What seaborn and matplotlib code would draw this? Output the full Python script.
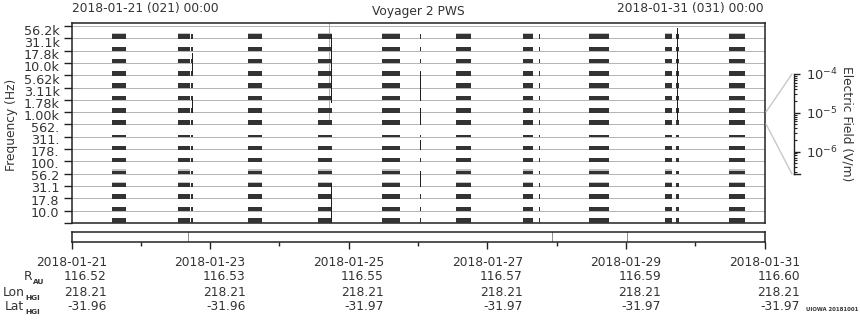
import numpy as np
import matplotlib
matplotlib.use("Agg")
import matplotlib.pyplot as plt
import matplotlib.transforms as mtransforms
from matplotlib.lines import Line2D
import seaborn as sns

# ---------------- data ----------------
freq_labels = ["10.0", "17.8", "31.1", "56.2", "100.", "178.", "311.", "562.",
               "1.00k", "1.78k", "3.11k", "5.62k", "10.0k", "17.8k", "31.1k", "56.2k"]
# fill height of each of the 16 channel rows (bottom to top), in row units
channel_fill = [0.42, 0.33, 0.33, 0.26, 0.26, 0.28, 0.26, 0.15,
                0.33, 0.31, 0.33, 0.33, 0.33, 0.33, 0.31, 0.33]
# rows that show a faint, weaker signal just above the strong one
faint_rows = [3, 4, 15]
# data blocks, days since 2018-01-21 00:00
block_start = [0.584, 1.537, 2.551, 3.557, 4.480, 5.548, 6.520, 7.472, 8.564, 9.488]
block_end   = [0.786, 1.710, 2.744, 3.759, 4.740, 5.760, 6.655, 7.752, 8.665, 9.719]
thin_start  = [1.724, 5.027, 6.745, 8.723]
thin_end    = [1.753, 5.041, 6.762, 8.766]
# vertical bursts: day, lower row, upper row
burst_day  = [1.743, 1.743, 3.748, 3.748, 5.034, 5.034, 5.034, 5.034, 8.733]
burst_low  = [12.2, 9.05, 9.8, 0.0, 10.0, 8.0, 6.0, 3.0, 8.4]
burst_high = [13.8, 10.1, 15.3, 3.24, 12.3, 9.3, 6.75, 4.2, 15.8]
faint_day, faint_low, faint_high = [3.72], [8.4], [16.22]
strip_marks = [1.68, 6.934, 8.02]

tick_days  = [0, 2, 4, 6, 8, 10]
tick_dates = ["2018-01-21", "2018-01-23", "2018-01-25", "2018-01-27", "2018-01-29", "2018-01-31"]
r_au    = ["116.52", "116.53", "116.55", "116.57", "116.59", "116.60"]
lon_hgi = ["218.21", "218.21", "218.21", "218.21", "218.21", "218.21"]
lat_hgi = ["-31.96", "-31.96", "-31.97", "-31.97", "-31.97", "-31.97"]

cbar_ticks = [1e-6, 1e-5, 1e-4]
cbar_range = [2.6e-7, 1e-4]

# ---------------- style ----------------
sns.set_theme(style="white")
plt.rcParams["font.family"] = ["DejaVu Sans"]
TXT = "#333333"
FS = 8.8
W, H = 860, 320
PX = 0.72  # one pixel in points

fig = plt.figure(figsize=(W / 100, H / 100), dpi=100)
fig.patch.set_facecolor("white")

def fx(px):
    return px / W

def fy(py):
    return 1 - py / H

# ---------------- main spectrogram axes ----------------
ax = fig.add_axes([fx(71.5), fy(223.3), fx(764.5 - 71.5), (223.3 - 23.3) / H])
ax.set_xlim(0, 10)
ax.set_ylim(-0.03, 16.22)
ax.set_facecolor("white")

# channel boundary lines
ax.hlines(np.arange(0, 17), 0, 10, color="#b5b5b5", lw=PX, zorder=1, antialiased=False)

bar_color = "#333333"
spans = [(s, e - s) for s, e in zip(block_start, block_end)]
tspans = [(s, e - s) for s, e in zip(thin_start, thin_end)]
for k, h in enumerate(channel_fill):
    ax.broken_barh(spans, (k - 0.04, h + 0.04), facecolors=bar_color, zorder=3,
                   antialiased=False, linewidth=0)
    ax.broken_barh(tspans, (k - 0.04, h + 0.04), facecolors=bar_color, zorder=3,
                   antialiased=False, linewidth=0)
    if k in faint_rows:
        ax.broken_barh(spans, (k + h, 0.1), facecolors="#c4c4c4", zorder=2,
                       antialiased=False, linewidth=0)

ax.vlines(faint_day, faint_low, faint_high, color="#b0b0b0", lw=PX, zorder=2, antialiased=False)
ax.vlines(burst_day, burst_low, burst_high, color="#202020", lw=PX, zorder=4, antialiased=False)

for s in ax.spines.values():
    s.set_color("#222222")
    s.set_linewidth(1.1)

ax.set_xticks([])
ax.set_yticks(np.arange(0, 17), minor=True)
ax.set_yticks(0.92 + np.arange(16) * 0.983)
ax.set_yticklabels(freq_labels)
ax.tick_params(axis="y", which="major", length=0, pad=8.6, labelsize=FS + 0.4, labelcolor=TXT)
ax.tick_params(axis="y", which="minor", length=6.0, width=1.0, color="#222222", left=True)
fig.text(fx(12), fy(125), "Frequency (Hz)", rotation=90, ha="center", va="center",
         fontsize=FS, color=TXT)

# ---------------- lower time strip ----------------
ax2 = fig.add_axes([fx(71.5), fy(242.3), fx(693), (242.3 - 231.7) / H])
ax2.set_xlim(0, 10)
ax2.set_ylim(0, 1)
ax2.vlines(strip_marks, 0, 1, color="#909090", lw=PX, antialiased=False)
for s in ax2.spines.values():
    s.set_color("#222222")
    s.set_linewidth(1.1)
ax2.set_yticks([])
ax2.set_xticks(tick_days)
ax2.set_xticks([1, 3, 5, 7, 9], minor=True)
ax2.tick_params(axis="x", which="major", length=5.2, width=1.0, color="#222222",
                bottom=True, labelbottom=False, direction="out")
ax2.tick_params(axis="x", which="minor", length=2.6, width=1.0, color="#222222",
                bottom=True, direction="out")

blend = mtransforms.blended_transform_factory(ax2.transData, fig.transFigure)
right_tr = mtransforms.offset_copy(blend, fig=fig, x=35.3, y=0, units="dots")
for d, lab, r, lo, la in zip(tick_days, tick_dates, r_au, lon_hgi, lat_hgi):
    fig.text(d, fy(262), lab, transform=blend, ha="center", va="center", fontsize=FS, color=TXT)
    fig.text(d, fy(277), r, transform=right_tr, ha="right", va="center", fontsize=FS, color=TXT)
    fig.text(d, fy(292), lo, transform=right_tr, ha="right", va="center", fontsize=FS, color=TXT)
    fig.text(d, fy(306.5), la, transform=right_tr, ha="right", va="center", fontsize=FS, color=TXT)

# row labels with subscripts
SUB = 5.3
fig.text(fx(32), fy(277), "R", ha="right", va="center", fontsize=FS, color=TXT)
fig.text(fx(32.5), fy(282.5), "AU", ha="left", va="center", fontsize=SUB, color=TXT, fontweight="bold")
fig.text(fx(24.5), fy(292), "Lon", ha="right", va="center", fontsize=FS, color=TXT)
fig.text(fx(25), fy(298), "HGI", ha="left", va="center", fontsize=SUB, color=TXT, fontweight="bold")
fig.text(fx(24.5), fy(306.5), "Lat", ha="right", va="center", fontsize=FS, color=TXT)
fig.text(fx(25), fy(312.5), "HGI", ha="left", va="center", fontsize=SUB, color=TXT, fontweight="bold")

# ---------------- titles ----------------
fig.text(fx(72.5), fy(8.5), "2018-01-21 (021) 00:00", ha="left", va="center", fontsize=FS, color=TXT)
fig.text(fx(418), fy(11.5), "Voyager 2 PWS", ha="center", va="center", fontsize=FS, color=TXT)
fig.text(fx(763.5), fy(8.5), "2018-01-31 (031) 00:00", ha="right", va="center", fontsize=FS, color=TXT)
fig.text(fx(805.5), fy(309.5), "UIOWA 20181001", ha="left", va="center", fontsize=3.9,
         color=TXT, fontweight="bold")

# ---------------- colour scale ----------------
cax = fig.add_axes([fx(794.3), fy(174.3), fx(6), (174.3 - 74) / H])
cax.set_yscale("log")
cax.set_ylim(*cbar_range)
cax.set_xticks([])
cax.set_facecolor("none")
cax.spines["top"].set_visible(False)
cax.spines["right"].set_visible(False)
cax.spines["left"].set_color("#222222")
cax.spines["bottom"].set_color("#222222")
cax.spines["left"].set_linewidth(1.0)
cax.spines["bottom"].set_linewidth(1.0)
cax.set_yticks(cbar_ticks)
cax.set_yticklabels([r"$10^{-6}$", r"$10^{-5}$", r"$10^{-4}$"])
cax.yaxis.set_minor_locator(matplotlib.ticker.LogLocator(base=10, subs=np.arange(2, 10)))
cax.yaxis.set_minor_formatter(matplotlib.ticker.NullFormatter())
cax.tick_params(axis="y", which="major", left=True, right=False, labelleft=False, labelright=True,
                direction="in", length=4.2, width=1.0, color="#222222", pad=4.0,
                labelsize=FS + 0.6, labelcolor=TXT)
cax.tick_params(axis="y", which="minor", left=True, right=False, direction="in",
                length=2.2, width=0.8, color="#222222")
fig.text(fx(847), fy(124), "Electric Field (V/m)", rotation=-90, ha="center", va="center",
         fontsize=FS, color=TXT)

# connector lines
for (x0, y0, x1, y1) in [(766, 112, 792, 74), (766, 124, 792, 174)]:
    fig.add_artist(Line2D([fx(x0), fx(x1)], [fy(y0), fy(y1)], transform=fig.transFigure,
                          color="#c8c8c8", lw=1.0))

fig.savefig("out.png", dpi=100, facecolor="white")
